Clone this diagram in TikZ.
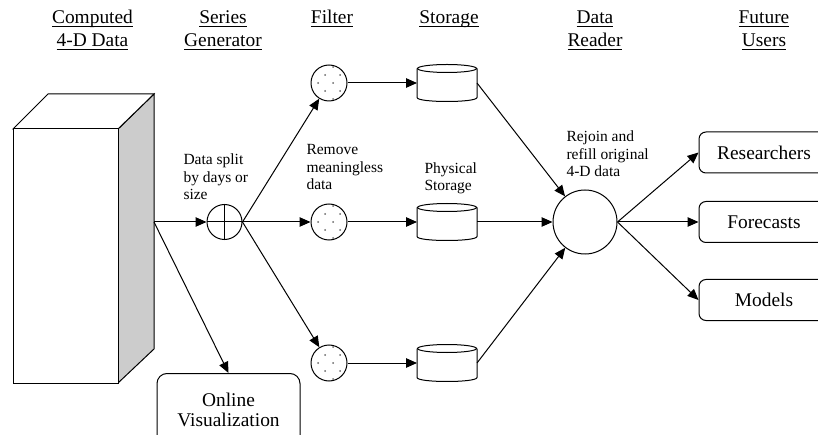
\documentclass[tikz,border=0pt]{standalone}
\usepackage{fontspec}
\setmainfont{Liberation Serif}
\usetikzlibrary{arrows.meta}
\definecolor{sidegray}{RGB}{204,204,204}
\newcommand\hdul[1]{\setbox0\hbox{#1}\rlap{\rule[-2.5pt]{\wd0}{0.9pt}}\box0}
\begin{document}
\begin{tikzpicture}[x=1pt,y=-1pt, line width=1pt,
  >={Triangle[length=11pt,width=9.5pt]},
  hdr/.style={font=\fontsize{19.4}{23}\selectfont, align=center, anchor=base, inner sep=0pt},
  lbl/.style={font=\fontsize{15.5}{17.5}\selectfont, align=left, anchor=base west, inner sep=0pt},
  userbox/.style={draw, rounded corners=7pt, minimum width=130pt, minimum height=41pt, inner sep=0pt, font=\fontsize{19.4}{23}\selectfont},
  filt/.style={draw, circle, minimum size=36pt, inner sep=0pt},
  cyl/.style={minimum width=59pt, minimum height=36pt, inner sep=0pt}]
\useasboundingbox (0,0) rectangle (818,435);

% 3-D data block
\draw[fill=sidegray] (118,129) -- (154,94) -- (154,349) -- (118,383) -- cycle;
\draw[fill=white] (13,129) -- (48,94) -- (154,94) -- (118,129) -- cycle;
\draw[fill=white] (13,129) rectangle (118,383);
\coordinate (boxout) at (154,222);

% headers (base anchor = last line)
\node[hdr] (h1) at (92.5,47) {\hdul{Computed}\\\hdul{4-D Data}};
\node[hdr] (h2) at (223,47) {\hdul{Series}\\\hdul{Generator}};
\node[hdr] (h3) at (332,24) {\hdul{Filter}};
\node[hdr] (h4) at (449,24) {\hdul{Storage}};
\node[hdr] (h5) at (595,47) {\hdul{Data}\\\hdul{Reader}};
\node[hdr] (h6) at (764,47) {\hdul{Future}\\\hdul{Users}};

% splitter
\node[draw, circle, minimum size=35pt, inner sep=0pt] (split) at (224.5,222) {};
\draw (split.north) -- (split.south) (split.west) -- (split.east);

% filters
\node[filt] (f1) at (329,83) {};
\node[filt] (f2) at (329,222) {};
\node[filt] (f3) at (329,363) {};
\foreach \f in {f1,f2,f3}{
  \foreach \dx/\dy in {-4/-8, 11/-8, -11/0, 4/0, -4/8, 11/8, 4/16, 4/-16}{
    \fill[black!60] ([shift={(\dx,\dy)}]\f.center) circle (1pt);
  }
}

% storage cylinders
\node[cyl] (c1) at (447,83) {};
\node[cyl] (c2) at (447,222) {};
\node[cyl] (c3) at (447,363) {};
\foreach \c in {c1,c2,c3}{
  \draw ([yshift=-4pt]\c.north west) -- ([yshift=4pt]\c.south west)
    .. controls ([yshift=-1.33pt]\c.south west) and ([yshift=-1.33pt]\c.south east) ..
    ([yshift=4pt]\c.south east) -- ([yshift=-4pt]\c.north east);
  \draw ([yshift=-4pt]\c.north) ellipse [x radius=29.5pt, y radius=4pt];
}

% reader
\node[draw, circle, minimum size=64pt, inner sep=0pt] (reader) at (585,222) {};

% users
\node[userbox] (r1) at (764,152.5) {Researchers};
\node[userbox] (r2) at (764,222) {Forecasts};
\node[userbox] (r3) at (764,300) {Models};

% online visualization
\node[draw, rounded corners=10pt, minimum width=143pt, minimum height=72pt, anchor=north,
  align=center, inner sep=0pt, font=\fontsize{19.4}{20}\selectfont] (ov) at (228.5,373) {Online\\Visualization};

% labels (base anchor = last line)
\node[lbl] (t1) at (183,200) {Data split\\by days or\\size};
\node[lbl] (t2) at (306,190) {Remove\\meaningless\\data};
\node[lbl] (t3) at (424,191) {Physical\\Storage};
\node[lbl] (t4) at (566,177) {Rejoin and\\refill original\\4-D data};

% connectors
\draw[->] (boxout) -- (split.west);
\draw[->] (boxout) -- (ov.north);
\draw[->] (split.east) -- (f1);
\draw[->] (split.east) -- (f2.west);
\draw[->] (split.east) -- (f3);
\draw[->] (f1.east) -- (c1.west);
\draw[->] (f2.east) -- (c2.west);
\draw[->] (f3.east) -- (c3.west);
\draw[->] (c1.east) -- (reader);
\draw[->] (c2.east) -- (reader.west);
\draw[->] (c3.east) -- (reader);
\draw[->] (reader.east) -- (r1.west);
\draw[->] (reader.east) -- (r2.west);
\draw[->] (reader.east) -- (r3.west);
\end{tikzpicture}
\end{document}
